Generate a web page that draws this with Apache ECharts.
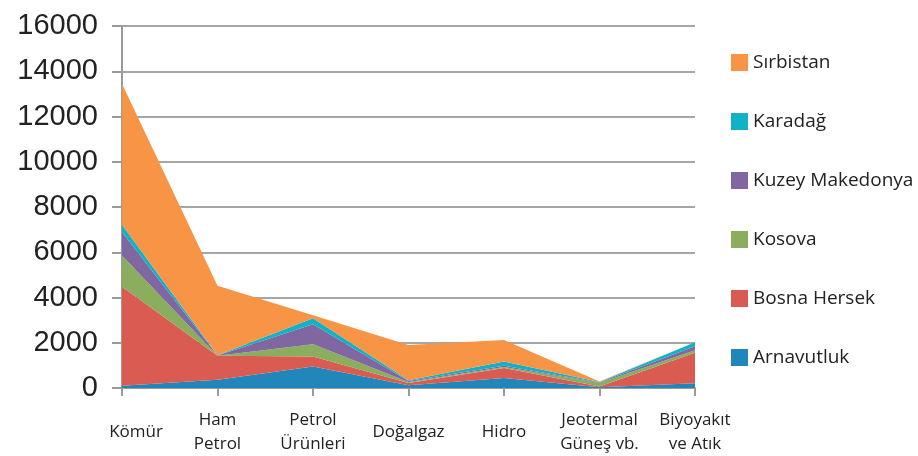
<!DOCTYPE html>
<html>
<head>
<meta charset="utf-8">
<script src="https://cdn.jsdelivr.net/npm/echarts@6/dist/echarts.min.js"></script>
<style>
  html, body { margin: 0; padding: 0; background: #fff; }
  #chart { width: 918px; height: 456px; }
</style>
</head>
<body>
<div id="chart"></div>
<script>
// kategoriler (x ekseni)
const categories = ['Kömür', 'Ham\nPetrol', 'Petrol\nÜrünleri', 'Doğalgaz', 'Hidro', 'Jeotermal\nGüneş vb.', 'Biyoyakıt\nve Atık'];

// ülke serileri (yığılmış alan, alttan üste)
const arnavutluk    = [100, 360, 950, 120, 440, 30, 210];
const bosnaHersek   = [4370, 1060, 440, 100, 440, 40, 1350];
const kosova        = [1390, 10, 545, 50, 50, 150, 110];
const kuzeyMakedonya = [1030, 10, 880, 40, 50, 20, 170];
const karadag       = [330, 10, 265, 30, 195, 20, 180];
const sirbistan     = [6230, 3070, 140, 1560, 945, 30, 40];

const yTicks = [0, 2000, 4000, 6000, 8000, 10000, 12000, 14000, 16000];

const colors = {
  'Arnavutluk': '#2187bb',
  'Bosna Hersek': '#d95b52',
  'Kosova': '#8bad5e',
  'Kuzey Makedonya': '#8067a2',
  'Karadağ': '#12b2c6',
  'Sırbistan': '#f79445'
};

const seriesData = [
  ['Arnavutluk', arnavutluk],
  ['Bosna Hersek', bosnaHersek],
  ['Kosova', kosova],
  ['Kuzey Makedonya', kuzeyMakedonya],
  ['Karadağ', karadag],
  ['Sırbistan', sirbistan]
];

const chart = echarts.init(document.getElementById('chart'));

chart.setOption({
  backgroundColor: '#fff',
  animation: false,
  textStyle: { fontFamily: '"Open Sans", sans-serif' },
  grid: { left: 122, right: 223, top: 26, bottom: 66, containLabel: false },
  legend: {
    orient: 'vertical',
    left: 726,
    top: 48,
    itemWidth: 17,
    itemHeight: 17,
    itemGap: 40,
    icon: 'rect',
    data: ['Sırbistan', 'Karadağ', 'Kuzey Makedonya', 'Kosova', 'Bosna Hersek', 'Arnavutluk'],
    textStyle: { fontSize: 19, color: '#222', padding: [0, 0, 0, 0] }
  },
  xAxis: {
    type: 'category',
    boundaryGap: false,
    data: categories,
    axisLine: { show: true, lineStyle: { color: '#9a9a9a', width: 2 } },
    axisTick: { show: true, alignWithLabel: true, length: 8, lineStyle: { color: '#9a9a9a', width: 2 } },
    axisLabel: {
      fontSize: 17,
      color: '#222',
      margin: 44,
      lineHeight: 24,
      verticalAlign: 'middle',
      interval: 0,
      // ilk etiket Excel'deki gibi biraz sağa kayık
      formatter: (v, i) => (i === 0 ? '{first|' + v + '}' : v),
      rich: {
        first: { fontSize: 17, color: '#222', padding: [0, 0, 0, 28] }
      }
    },
    splitLine: { show: false }
  },
  yAxis: {
    type: 'value',
    min: yTicks[0],
    max: yTicks[yTicks.length - 1],
    interval: 2000,
    axisLine: { show: true, lineStyle: { color: '#9a9a9a', width: 2 } },
    axisTick: { show: true, length: 10, lineStyle: { color: '#9a9a9a', width: 2 } },
    axisLabel: {
      fontSize: 29,
      color: '#222',
      margin: 24,
      fontFamily: '"Liberation Sans", Arial, sans-serif',
      formatter: (v) => String(v)
    },
    splitLine: { show: true, lineStyle: { color: '#a6a6a6', width: 2 } }
  },
  series: seriesData.map(([name, data]) => ({
    name,
    type: 'line',
    stack: 'total',
    data,
    symbol: 'none',
    smooth: false,
    lineStyle: { width: 0 },
    itemStyle: { color: colors[name] },
    areaStyle: { color: colors[name], opacity: 1 }
  }))
});
</script>
</body>
</html>
